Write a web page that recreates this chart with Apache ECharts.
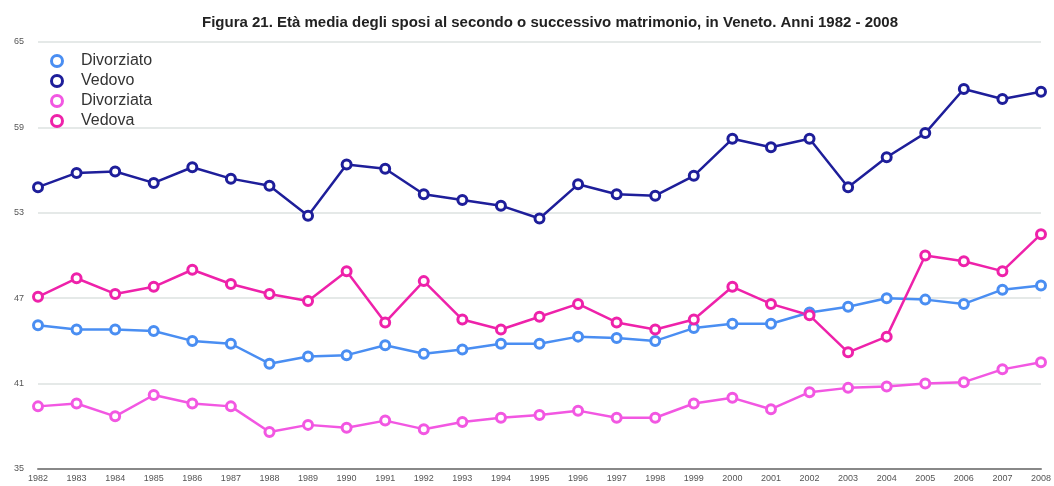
<!DOCTYPE html>
<html>
<head>
<meta charset="utf-8">
<script src="https://cdn.jsdelivr.net/npm/echarts@6/dist/echarts.min.js"></script>
<style>
    html, body { margin: 0; padding: 0; background: #fff; }
    #chart { width: 1054px; height: 486px; }
</style>
</head>
<body>
<div id="chart"></div>
<script>
// anni
const years = ['1982', '1983', '1984', '1985', '1986', '1987', '1988', '1989', '1990', '1991',
    '1992', '1993', '1994', '1995', '1996', '1997', '1998', '1999', '2000', '2001',
    '2002', '2003', '2004', '2005', '2006', '2007', '2008'];

// età media per tipo di sposo
const divorziato = [45.1, 44.8, 44.8, 44.7, 44.0, 43.8, 42.4, 42.9, 43.0, 43.7,
    43.1, 43.4, 43.8, 43.8, 44.3, 44.2, 44.0, 44.9, 45.2, 45.2,
    46.0, 46.4, 47.0, 46.9, 46.6, 47.6, 47.9];
const vedovo = [54.8, 55.8, 55.9, 55.1, 56.2, 55.4, 54.9, 52.8, 56.4, 56.1,
    54.3, 53.9, 53.5, 52.6, 55.0, 54.3, 54.2, 55.6, 58.2, 57.6,
    58.2, 54.8, 56.9, 58.6, 61.7, 61.0, 61.5];
const divorziata = [39.4, 39.6, 38.7, 40.2, 39.6, 39.4, 37.6, 38.1, 37.9, 38.4,
    37.8, 38.3, 38.6, 38.8, 39.1, 38.6, 38.6, 39.6, 40.0, 39.2,
    40.4, 40.7, 40.8, 41.0, 41.1, 42.0, 42.5];
const vedova = [47.1, 48.4, 47.3, 47.8, 49.0, 48.0, 47.3, 46.8, 48.9, 45.3,
    48.2, 45.5, 44.8, 45.7, 46.6, 45.3, 44.8, 45.5, 47.8, 46.6,
    45.8, 43.2, 44.3, 50.0, 49.6, 48.9, 51.5];

const seriesNames = ['Divorziato', 'Vedovo', 'Divorziata', 'Vedova'];
const seriesColors = ['#4a8ef2', '#1e1e9a', '#f257e2', '#ee22aa'];
const seriesData = [divorziato, vedovo, divorziata, vedova];

const initChart = function () {
    const series = seriesData.map(function (data, i) {
        return {
            name: seriesNames[i],
            type: 'line',
            data: data,
            symbol: 'circle',
            symbolSize: 9,
            showAllSymbol: true,
            lineStyle: { color: seriesColors[i], width: 2.5 },
            itemStyle: { color: '#fff', borderColor: seriesColors[i], borderWidth: 3 },
            animation: false
        };
    });

    const option = {
        backgroundColor: '#fff',
        title: {
            text: 'Figura 21. Età media degli sposi al secondo o successivo matrimonio, in Veneto. Anni 1982 - 2008',
            left: 545,
            textAlign: 'center',
            top: 10,
            textStyle: {
                fontFamily: 'Liberation Sans',
                fontSize: 15,
                fontWeight: 'bold',
                color: '#222'
            }
        },
        legend: {
            orient: 'vertical',
            left: 45,
            top: 48,
            itemGap: 4,
            itemWidth: 14,
            itemHeight: 11,
            icon: 'circle',
            data: seriesNames.map(function (name, i) {
                return {
                    name: name,
                    itemStyle: { color: '#fff', borderColor: seriesColors[i], borderWidth: 3 }
                };
            }),
            textStyle: {
                fontFamily: 'Liberation Sans',
                fontSize: 16,
                color: '#333',
                padding: [0, 0, 0, 12]
            }
        },
        grid: {
            left: 38,
            right: 12,
            top: 42,
            bottom: 17
        },
        xAxis: {
            type: 'category',
            data: years,
            boundaryGap: false,
            axisLine: { lineStyle: { color: '#888', width: 2 } },
            axisTick: { show: false },
            axisLabel: {
                interval: 0,
                margin: 5,
                fontFamily: 'Liberation Sans',
                fontSize: 9,
                color: '#555'
            },
            splitLine: { show: false }
        },
        yAxis: {
            type: 'value',
            min: 35,
            max: 65,
            interval: 6,
            axisLine: { show: false },
            axisTick: { show: false },
            axisLabel: {
                margin: 14,
                fontFamily: 'Liberation Sans',
                fontSize: 9,
                color: '#555'
            },
            splitLine: { lineStyle: { color: '#dde2e0', width: 1.5 } }
        },
        series: series
    };

    const chart = echarts.init(document.getElementById('chart'));
    chart.setOption(option);
};

initChart();
</script>
</body>
</html>
